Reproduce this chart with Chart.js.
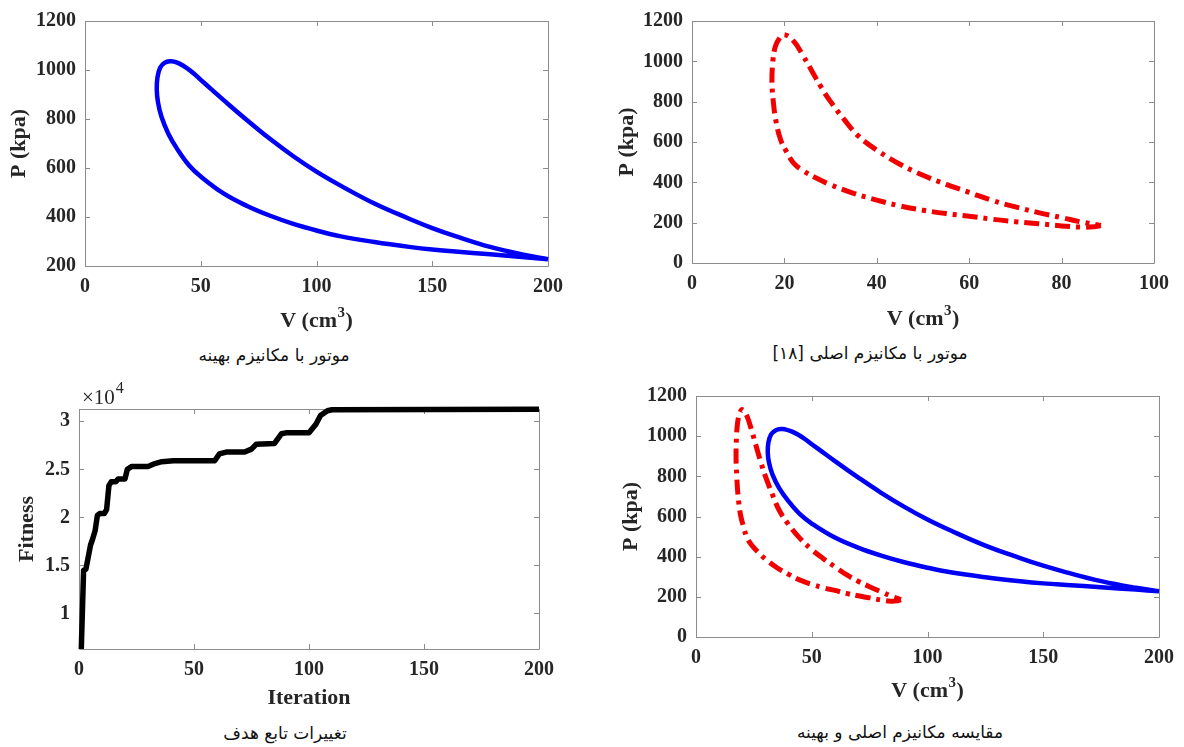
<!DOCTYPE html>
<html>
<head>
<meta charset="utf-8">
<script src="https://cdn.jsdelivr.net/npm/chart.js@4.4.1/dist/chart.umd.min.js"></script>
<style>
  html, body { margin: 0; padding: 0; background: #fff; overflow: hidden; }
  #page { position: relative; width: 1184px; height: 747px; background: #fff; }
  .panel { position: absolute; width: 592px; height: 340px; }
  .caption {
    position: absolute; font-family: 'DejaVu Sans', sans-serif; font-size: 17px;
    color: #111; white-space: nowrap; transform: translate(-50%, -50%);
    direction: rtl; line-height: 20px;
  }
</style>
</head>
<body>
<div id="page">
  <div class="panel" style="left:0;top:0"><canvas id="pvOptimal" width="592" height="340"></canvas></div>
  <div class="panel" style="left:592px;top:0"><canvas id="pvOriginal" width="592" height="340"></canvas></div>
  <div class="panel" style="left:0;top:375px"><canvas id="fitnessChart" width="592" height="340"></canvas></div>
  <div class="panel" style="left:592px;top:375px"><canvas id="pvCompare" width="592" height="340"></canvas></div>

  <div class="caption" style="left:274px;top:355px">موتور با مکانیزم بهینه</div>
  <div class="caption" style="left:870px;top:353px">موتور با مکانیزم اصلی [۱۸]</div>
  <div class="caption" style="left:285px;top:733px">تغییرات تابع هدف</div>
  <div class="caption" style="left:900px;top:732px">مقایسه مکانیزم اصلی و بهینه</div>
</div>

<script>
// Optimised mechanism: P–V loop (volume in cm^3, pressure in kPa)
const optV = [200, 190, 175, 160, 150, 140, 125, 110, 100, 90, 80, 70, 60, 50, 45, 40, 36, 33, 31.5, 31, 31.3, 32.5, 34.5, 37,
              38.5, 41, 44, 47, 50, 55, 60, 70, 80, 90, 100, 110, 125, 140, 150, 160, 175, 190, 200];
const optP = [228, 236, 248, 259, 267, 278, 298, 322, 345, 372, 405, 445, 495, 565, 610, 675, 740, 810, 870, 920, 970, 1010, 1030, 1036,
              1034, 1025, 1008, 986, 960, 918, 876, 795, 718, 648, 585, 530, 455, 393, 355, 322, 278, 245, 228];

// Original mechanism [18]: P–V loop
const origV = [88.5, 87, 84, 80, 75, 70, 65, 60, 55, 50, 45, 40, 35, 30, 27, 24, 22, 20.5, 19.2, 18.2, 17.6, 17.3, 17.5, 18, 18.8, 20,
               22, 24, 26, 28, 30, 33, 36, 40, 45, 50, 55, 60, 65, 70, 75, 80, 85, 88.5];
const origP = [186, 180, 178, 184, 195, 205, 217, 232, 245, 262, 283, 312, 345, 388, 420, 458, 495, 550, 610, 700, 800, 900, 1000, 1070, 1110, 1132,
               1100, 1030, 950, 870, 800, 710, 630, 560, 490, 435, 390, 350, 310, 278, 250, 225, 200, 186];

// Objective function history (best fitness per iteration)
const iterations = [1, 2, 3, 5, 6, 7, 8, 9, 11, 12, 13, 14, 16, 17, 20, 21, 23, 30, 33, 36, 41, 59, 61, 64, 72, 75, 77, 85, 88, 90,
                    100, 103, 105, 108, 110, 200];
const fitness = [6300, 14500, 14600, 17100, 17800, 18600, 20200, 20400, 20400, 20800, 23300, 23700, 23700, 24000, 24000, 25000,
                 25300, 25300, 25600, 25800, 25900, 25900, 26600, 26800, 26800, 27100, 27600, 27700, 28700, 28800, 28800, 29700,
                 30600, 31100, 31200, 31250];

// Tick values
const vTicks200 = [0, 50, 100, 150, 200];
const vTicks100 = [0, 20, 40, 60, 80, 100];
const pTicksOpt = [200, 400, 600, 800, 1000, 1200];
const pTicks = [0, 200, 400, 600, 800, 1000, 1200];
const iterTicks = [0, 50, 100, 150, 200];
const fitTicks = [10000, 15000, 20000, 25000, 30000];

// Axis titles; the volume unit carries a superscript
const volumeTitle = [{ text: 'V (cm' }, { text: '3', sup: true }, { text: ')' }];
const iterationTitle = [{ text: 'Iteration' }];

const BLUE = '#0000f5';
const RED = '#f00000';
const AXIS = '#8c8c8c';
const TEXT = '#262626';
const SERIF = "'Liberation Serif', 'Times New Roman', serif";

const toPoints = (xs, ys) => xs.map((x, i) => ({ x, y: ys[i] }));

// Box around the plot area with inward tick marks on all four sides
const boxPlugin = {
  id: 'axesBox',
  beforeDatasetsDraw(chart) {
    const { ctx, chartArea: a, scales: { x, y } } = chart;
    const L = 5;
    ctx.save();
    ctx.strokeStyle = AXIS;
    ctx.lineWidth = 1;
    ctx.beginPath();
    ctx.rect(Math.round(a.left) + 0.5, Math.round(a.top) + 0.5,
             Math.round(a.right - a.left), Math.round(a.bottom - a.top));
    x.ticks.forEach(t => {
      const px = Math.round(x.getPixelForValue(t.value)) + 0.5;
      ctx.moveTo(px, a.bottom); ctx.lineTo(px, a.bottom - L);
      ctx.moveTo(px, a.top); ctx.lineTo(px, a.top + L);
    });
    y.ticks.forEach(t => {
      const py = Math.round(y.getPixelForValue(t.value)) + 0.5;
      ctx.moveTo(a.left, py); ctx.lineTo(a.left + L, py);
      ctx.moveTo(a.right, py); ctx.lineTo(a.right - L, py);
    });
    ctx.stroke();
    ctx.restore();
  }
};

// Horizontal axis title, drawn in pieces so the superscript sits raised
const xTitlePlugin = {
  id: 'xTitle',
  afterDraw(chart, args, opts) {
    const { ctx, chartArea: a } = chart;
    const big = `bold 22px ${SERIF}`;
    const small = `bold 15px ${SERIF}`;
    ctx.save();
    ctx.fillStyle = TEXT;
    ctx.textBaseline = 'alphabetic';
    let total = 0;
    const widths = opts.parts.map(p => {
      ctx.font = p.sup ? small : big;
      const w = ctx.measureText(p.text).width + (p.sup ? 1 : 0);
      total += w;
      return w;
    });
    let x = (a.left + a.right) / 2 - total / 2;
    const base = a.bottom + opts.offset;
    opts.parts.forEach((p, i) => {
      ctx.font = p.sup ? small : big;
      ctx.fillText(p.text, x + (p.sup ? 0.5 : 0), p.sup ? base - 10 : base);
      x += widths[i];
    });
    ctx.restore();
  }
};

// Exponent label drawn above the fitness axis
const exponentPlugin = {
  id: 'exponentLabel',
  afterDraw(chart) {
    const { ctx, chartArea: a } = chart;
    ctx.save();
    ctx.fillStyle = TEXT;
    ctx.textBaseline = 'alphabetic';
    ctx.font = `21px ${SERIF}`;
    ctx.fillText('×10', a.left + 3, a.top - 5);
    const w = ctx.measureText('×10').width;
    ctx.font = `16px ${SERIF}`;
    ctx.fillText('4', a.left + 3 + w + 1, a.top - 16);
    ctx.restore();
  }
};

function makeChart(id, o) {
  const tickFont = { family: SERIF, size: 20, weight: 'bold' };
  const titleFont = { family: SERIF, size: 22, weight: 'bold' };
  return new Chart(document.getElementById(id), {
    type: 'scatter',
    data: { datasets: o.datasets },
    options: {
      responsive: false,
      animation: false,
      events: [],
      layout: { padding: { left: 0, top: o.padTop, right: o.padRight, bottom: 0 } },
      plugins: {
        legend: { display: false }, tooltip: { enabled: false },
        xTitle: { parts: o.xTitle, offset: o.xTitleOffset }
      },
      elements: { point: { radius: 0 } },
      scales: {
        x: {
          type: 'linear', min: o.xMin, max: o.xMax,
          afterBuildTicks: s => { s.ticks = o.xTicks.map(v => ({ value: v })); },
          afterFit: s => { s.height = o.xHeight; },
          grid: { display: false, drawTicks: false },
          border: { display: false },
          ticks: { font: tickFont, color: TEXT, padding: 9, maxRotation: 0, autoSkip: false }
        },
        y: {
          type: 'linear', min: o.yMin, max: o.yMax,
          afterBuildTicks: s => { s.ticks = o.yTicks.map(v => ({ value: v })); },
          afterFit: s => { s.width = o.yWidth; },
          grid: { display: false, drawTicks: false },
          border: { display: false },
          ticks: { font: tickFont, color: TEXT, padding: 9, autoSkip: false, callback: o.yFormat || (v => v) },
          title: { display: true, text: o.yTitle, font: titleFont, color: TEXT, padding: { top: o.yTitlePad, bottom: 0 } }
        }
      }
    },
    plugins: [boxPlugin, xTitlePlugin].concat(o.extraPlugins || [])
  });
}

const optLoop = () => ({
  data: toPoints(optV, optP), showLine: true, borderColor: BLUE, borderWidth: 4.5,
  tension: 0.4, clip: false, pointRadius: 0
});
const origLoop = () => ({
  data: toPoints(origV, origP), showLine: true, borderColor: RED, borderWidth: 5,
  borderDash: [15, 6, 4, 6], tension: 0.4, clip: false, pointRadius: 0
});

makeChart('pvOptimal', {
  datasets: [optLoop()],
  xMin: 0, xMax: 200, xTicks: vTicks200, yMin: 200, yMax: 1200, yTicks: pTicksOpt,
  xTitle: volumeTitle, yTitle: 'P (kpa)',
  padTop: 18, padRight: 44, xHeight: 74, yWidth: 85, xTitleOffset: 61, yTitlePad: 6
});

makeChart('pvOriginal', {
  datasets: [origLoop()],
  xMin: 0, xMax: 100, xTicks: vTicks100, yMin: 0, yMax: 1200, yTicks: pTicks,
  xTitle: volumeTitle, yTitle: 'P (kpa)',
  padTop: 17, padRight: 30, xHeight: 77, yWidth: 100, xTitleOffset: 62, yTitlePad: 22
});

makeChart('fitnessChart', {
  datasets: [{
    data: toPoints(iterations, fitness), showLine: true, borderColor: '#000', borderWidth: 5.5,
    tension: 0, clip: false, pointRadius: 0, borderJoinStyle: 'round'
  }],
  xMin: 0, xMax: 200, xTicks: iterTicks, yMin: 6300, yMax: 31280, yTicks: fitTicks,
  yFormat: v => String(v / 10000),
  xTitle: iterationTitle, yTitle: 'Fitness',
  padTop: 34, padRight: 53, xHeight: 66, yWidth: 79, xTitleOffset: 55, yTitlePad: 14,
  extraPlugins: [exponentPlugin]
});

makeChart('pvCompare', {
  datasets: [origLoop(), optLoop()],
  xMin: 0, xMax: 200, xTicks: vTicks200, yMin: 0, yMax: 1200, yTicks: pTicks,
  xTitle: volumeTitle, yTitle: 'P (kpa)',
  padTop: 16, padRight: 25, xHeight: 78, yWidth: 104, xTitleOffset: 60, yTitlePad: 26
});
</script>
</body>
</html>
